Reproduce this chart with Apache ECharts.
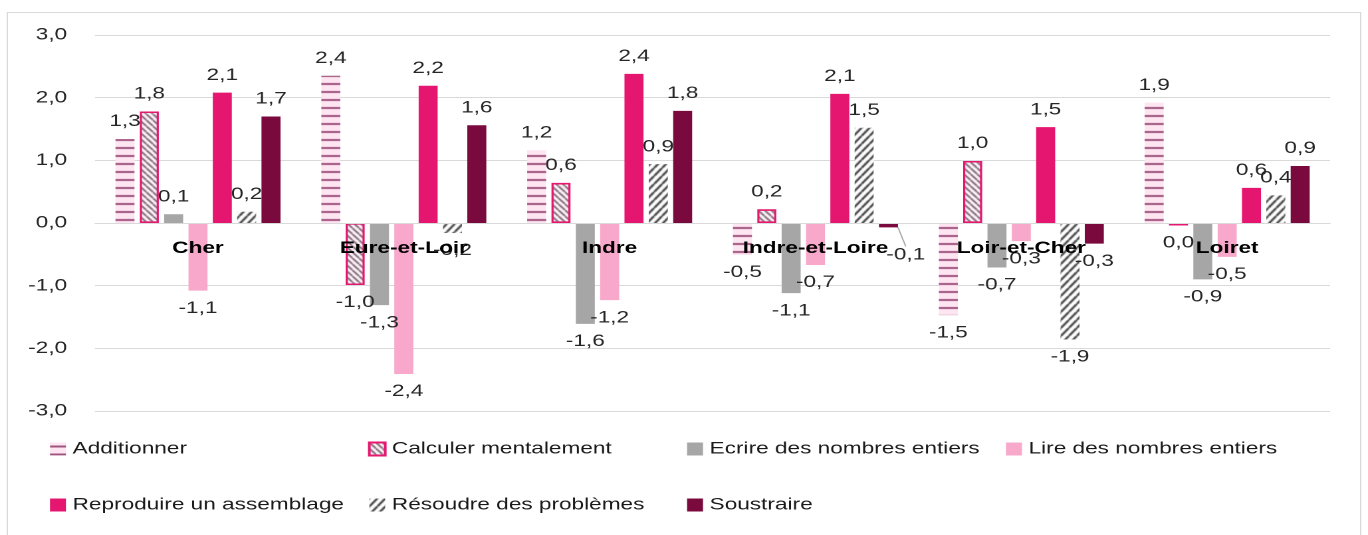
<!DOCTYPE html>
<html>
<head>
<meta charset="utf-8">
<script src="https://cdn.jsdelivr.net/npm/echarts@6/dist/echarts.min.js"></script>
<style>
  html, body { margin: 0; padding: 0; background: #fff; overflow: hidden; }
  /* la figure d'origine est étirée horizontalement : on dessine plus étroit puis on étire */
  #chart { width: 1029px; height: 535px; transform: scaleX(1.3294); transform-origin: 0 0; }
</style>
</head>
<body>
<div id="chart"></div>
<script>
  // départements
  const categories = ['Cher', 'Eure-et-Loir', 'Indre', 'Indre-et-Loire', 'Loir-et-Cher', 'Loiret'];

  // écarts par compétence
  const additionner = [1.34, 2.35, 1.16, -0.51, -1.47, 1.92];
  const calculer = [1.78, -0.99, 0.64, 0.22, 0.99, -0.04];
  const ecrire = [0.14, -1.31, -1.61, -1.12, -0.71, -0.90];
  const lire = [-1.08, -2.41, -1.23, -0.67, -0.29, -0.54];
  const reproduire = [2.08, 2.19, 2.38, 2.06, 1.53, 0.56];
  const resoudre = [0.18, -0.16, 0.94, 1.52, -1.86, 0.44];
  const soustraire = [1.70, 1.56, 1.79, -0.07, -0.33, 0.91];

  const yTicks = [-3, -2, -1, 0, 1, 2, 3];

  const fontName = '"Liberation Sans", Arial, sans-serif';
  const fmt = v => (Math.round(v * 10) / 10).toFixed(1).replace('.', ',');

  // motifs (hachures)
  function stripesH() {
    let c = document.createElement('canvas');
    c.width = 4; c.height = 8;
    let ctx = c.getContext('2d');
    ctx.fillStyle = '#fde6f2';
    ctx.fillRect(0, 0, 4, 8);
    ctx.fillStyle = '#a1547e';
    ctx.fillRect(0, 3, 4, 2);
    return {image: c, repeat: 'repeat'};
  }
  function diag(dir, col, bg, w, h, lw) {
    let c = document.createElement('canvas');
    c.width = w; c.height = h;
    let ctx = c.getContext('2d');
    ctx.fillStyle = bg;
    ctx.fillRect(0, 0, w, h);
    ctx.strokeStyle = col;
    ctx.lineWidth = lw;
    ctx.beginPath();
    if (dir === '/') {
      ctx.moveTo(0, h); ctx.lineTo(w, 0);
      ctx.moveTo(-w, h); ctx.lineTo(0, 0);
      ctx.moveTo(w, h); ctx.lineTo(2 * w, 0);
    } else {
      ctx.moveTo(0, 0); ctx.lineTo(w, h);
      ctx.moveTo(-w, 0); ctx.lineTo(0, h);
      ctx.moveTo(w, 0); ctx.lineTo(2 * w, h);
    }
    ctx.stroke();
    return {image: c, repeat: 'repeat'};
  }

  const labelStyle = {
    show: true,
    distance: 9,
    fontFamily: fontName,
    fontSize: 17,
    color: '#262626',
    formatter: p => fmt(p.value)
  };

  function makeSeries(name, data, itemStyle, extra) {
    return Object.assign({
      name: name,
      type: 'bar',
      barWidth: 14.3,
      barGap: '28%',
      data: data.map(v => ({
        value: v,
        label: {position: v >= 0 ? 'top' : 'bottom'}
      })),
      itemStyle: itemStyle,
      label: labelStyle
    }, extra || {});
  }

  let soustraireSeries = makeSeries('Soustraire', soustraire, {color: '#7a0a3d'}, {
    labelLayout: p => (p.dataIndex === 3 ? {dx: 13, dy: 10} : {}),
    labelLine: {show: false, lineStyle: {color: '#a6a6a6', width: 1}}
  });
  soustraireSeries.data[3].labelLine = {show: true};

  let chart = echarts.init(document.getElementById('chart'), null, {devicePixelRatio: 2});
  chart.setOption({
    animation: false,
    graphic: [{
      type: 'rect',
      shape: {x: 5.5, y: 12.5, width: 1018, height: 600},
      style: {fill: 'none', stroke: '#d9d9d9', lineWidth: 1},
      silent: true
    }],
    grid: {left: 71.5, right: 28.5, top: 35, bottom: 124},
    legend: [
      {data: ['Additionner', 'Reproduire un assemblage'], left: 32.6},
      {data: ['Calculer mentalement', 'Résoudre des problèmes'], left: 271.8},
      {data: ['Ecrire des nombres entiers', 'Soustraire'], left: 511.8},
      {data: ['Lire des nombres entiers'], left: 751.7}
    ].map(l => Object.assign(l, {
      top: 434,
      orient: 'vertical',
      icon: 'rect',
      itemWidth: 12,
      itemHeight: 13,
      itemGap: 36,
      textStyle: {fontFamily: fontName, fontSize: 17, color: '#1a1a1a', lineHeight: 20}
    })),
    xAxis: {
      type: 'category',
      data: categories,
      z: 10,
      // étiquettes sur la ligne du zéro (grille de 411 à 223 px)
      offset: -188,
      axisLine: {onZero: false, lineStyle: {color: '#d9d9d9'}},
      axisTick: {show: false},
      axisLabel: {
        fontFamily: fontName,
        fontSize: 17,
        fontWeight: 'bold',
        color: '#000',
        margin: 17
      }
    },
    yAxis: {
      type: 'value',
      min: yTicks[0],
      max: yTicks[yTicks.length - 1],
      interval: 1,
      axisLine: {show: false},
      axisTick: {show: false},
      splitLine: {lineStyle: {color: '#d9d9d9'}},
      axisLabel: {
        fontFamily: fontName,
        fontSize: 17,
        color: '#262626',
        margin: 21,
        formatter: v => fmt(v)
      }
    },
    series: [
      makeSeries('Additionner', additionner, {color: stripesH()}),
      makeSeries('Calculer mentalement', calculer,
        {color: diag('\\', '#7d6072', '#fff8fb', 5, 6, 1.5), borderColor: '#e5176f', borderWidth: 1.6}),
      makeSeries('Ecrire des nombres entiers', ecrire, {color: '#a6a6a6'}),
      makeSeries('Lire des nombres entiers', lire, {color: '#f7a8cb'}),
      makeSeries('Reproduire un assemblage', reproduire, {color: '#e5166f'}),
      makeSeries('Résoudre des problèmes', resoudre, {color: diag('/', '#404040', '#ffffff', 6, 8, 1.8)}),
      soustraireSeries
    ]
  });
</script>
</body>
</html>
